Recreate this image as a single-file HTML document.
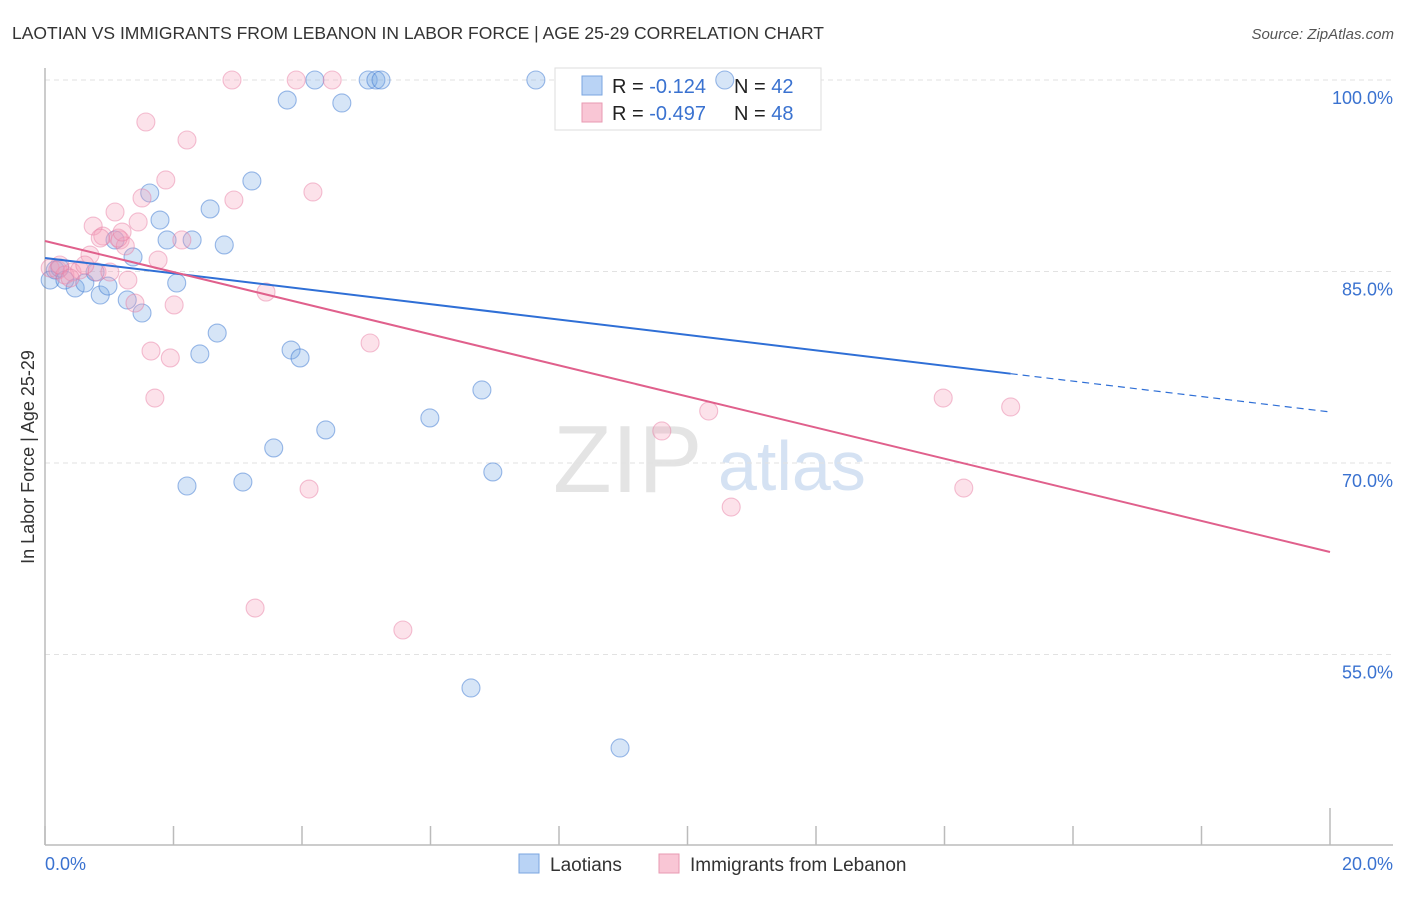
<!DOCTYPE html>
<html><head><meta charset="utf-8"><style>
body{margin:0;background:#fff;font-family:"Liberation Sans",sans-serif}
svg text{font-family:"Liberation Sans",sans-serif}
</style></head><body>
<svg id="c" width="1406" height="892" viewBox="0 0 1406 892" xmlns="http://www.w3.org/2000/svg">
<text x="12" y="39" font-size="17.5" fill="#333">LAOTIAN VS IMMIGRANTS FROM LEBANON IN LABOR FORCE | AGE 25-29 CORRELATION CHART</text>
<text x="1394" y="39" font-size="15" fill="#555" font-style="italic" text-anchor="end">Source: ZipAtlas.com</text>
<g>
<text x="553" y="492" font-size="96" fill="#e4e4e4" font-family="Liberation Serif,serif">ZIP</text>
<text x="718" y="490" font-size="70" fill="#d5e2f3">atlas</text>
</g>
<g id="grid"></g>
<g id="axes"></g>
<g>
<rect x="555" y="68" width="266" height="62" fill="#fff" stroke="#ddd"/>
<rect x="582" y="76" width="20" height="19" fill="#b9d3f5" stroke="#7aa6e0"/>
<rect x="582" y="103" width="20" height="19" fill="#f9c6d5" stroke="#e89ab2"/>
<text x="612" y="93" font-size="20" fill="#222">R = <tspan fill="#3a72d0"> -0.124</tspan></text>
<text x="734" y="93" font-size="20" fill="#222">N = <tspan fill="#3a72d0">42</tspan></text>
<text x="612" y="120" font-size="20" fill="#222">R = <tspan fill="#3a72d0">-0.497</tspan></text>
<text x="734" y="120" font-size="20" fill="#222">N = <tspan fill="#3a72d0">48</tspan></text>
</g>
<g id="pts"></g>
<g id="lines"></g>
<text transform="translate(34,457) rotate(-90)" font-size="18" fill="#333" text-anchor="middle">In Labor Force | Age 25-29</text>
<g>
<rect x="519" y="854" width="20" height="19" fill="#b9d3f5" stroke="#7aa6e0"/>
<text x="550" y="871" font-size="19" fill="#333">Laotians</text>
<rect x="659" y="854" width="20" height="19" fill="#f9c6d5" stroke="#e89ab2"/>
<text x="690" y="871" font-size="19" fill="#333">Immigrants from Lebanon</text>
</g>
</svg>
<script>
const blueX=[0.08,0.16,0.23,0.31,0.47,0.62,0.78,0.86,0.98,1.09,1.28,1.37,1.51,1.63,1.79,1.90,2.05,2.29,2.41,2.57,2.68,2.79,3.08,3.22,3.56,3.77,3.83,3.97,2.21,4.20,4.37,4.62,5.03,5.15,5.23,5.99,6.63,6.80,6.97,7.64,8.95,10.58];
const blueY=[84.33,85.12,85.27,84.33,83.71,84.10,84.96,83.16,83.86,87.47,82.77,86.14,81.75,91.15,89.03,87.47,84.10,87.47,78.54,89.90,80.18,87.08,68.51,92.09,71.18,98.43,78.85,78.23,68.20,100,72.59,98.20,100,100,100,73.53,52.38,75.72,69.30,100,47.68,100];
const pinkX=[0.08,0.20,0.31,0.42,0.54,0.70,0.75,0.81,0.90,1.01,1.09,1.17,1.25,1.29,1.40,1.45,1.51,1.57,1.65,1.71,1.76,1.88,1.95,2.01,2.13,2.21,2.91,2.94,3.27,3.44,3.91,4.11,4.17,4.47,5.06,5.57,9.60,10.33,10.68,13.98,14.30,15.03,0.23,0.39,0.62,0.86,1.14,1.20];
const pinkY=[85.27,85.12,84.73,84.96,85.12,86.29,88.56,84.96,87.78,84.96,89.66,87.47,87.00,84.33,82.53,88.88,90.76,96.71,78.77,75.09,85.90,92.17,78.23,82.38,87.47,95.30,100,90.60,58.64,83.39,100,67.96,91.23,100,79.40,56.92,72.51,74.07,66.55,75.09,68.04,74.39,85.51,84.49,85.51,87.62,87.62,88.09];
const blueTrend=[86.06,74.0];
const pinkTrend=[87.39,63.03];
const yTicks=[100,85,70,55];
const xTickLabels=["0.0%","20.0%"];
const NS="http://www.w3.org/2000/svg";
const sx=v=>45+v*64.25, sy=v=>80+(100-v)*12.767;
function mk(tag,attrs,parent){const e=document.createElementNS(NS,tag);for(const k in attrs)e.setAttribute(k,attrs[k]);document.getElementById(parent).appendChild(e);return e;}
yTicks.forEach(t=>{
 const g=mk('line',{x1:45,x2:1393,y1:sy(t),y2:sy(t),stroke:'#e2e2e2','stroke-dasharray':'5,4'},'grid');
 
 
 const l=mk('text',{x:1393,y:sy(t)+24,'font-size':18,fill:'#3a72d0','text-anchor':'end'},'grid');
 l.textContent=t.toFixed(1)+'%';
 
 
});
let a=mk('line',{x1:45,x2:45,y1:68,y2:845,stroke:'#bbb','stroke-width':1.5},'axes');


a=mk('line',{x1:45,x2:1393,y1:845,y2:845,stroke:'#bbb','stroke-width':1.5},'axes');


for(let i=0;i<=10;i++){
 const t=mk('line',{x1:sx(i*2),x2:sx(i*2),y1:(i==10?808:826),y2:845,stroke:'#bbb','stroke-width':1.5},'axes');
 
 
}
[[0,'start',45],[20,'end',1393]].forEach((d,i)=>{
 const t=mk('text',{x:d[2],y:870,'font-size':18,fill:'#3a72d0','text-anchor':d[1]},'axes');
 t.textContent=xTickLabels[i];
 
 
});
blueX.forEach((x,i)=>{
 const c=mk('circle',{cx:sx(x),cy:sy(blueY[i]),r:9,fill:'rgba(120,170,230,0.3)',stroke:'rgba(60,120,210,0.5)','stroke-width':1.1},'pts');
 
 
});
pinkX.forEach((x,i)=>{
 const c=mk('circle',{cx:sx(x),cy:sy(pinkY[i]),r:9,fill:'rgba(245,160,185,0.3)',stroke:'rgba(230,120,160,0.45)','stroke-width':1.1},'pts');
 
 
});
const by=x=>blueTrend[0]+(blueTrend[1]-blueTrend[0])*x/20;
let l=mk('line',{x1:sx(0),y1:sy(by(0)),x2:sx(15.03),y2:sy(by(15.03)),stroke:'#2f6fd6','stroke-width':2},'lines');


l=mk('line',{x1:sx(15.03),y1:sy(by(15.03)),x2:sx(20),y2:sy(by(20)),stroke:'#2f6fd6','stroke-width':1.2,'stroke-dasharray':'7,5'},'lines');


l=mk('line',{x1:sx(0),y1:sy(pinkTrend[0]),x2:sx(20),y2:sy(pinkTrend[1]),stroke:'#e0608c','stroke-width':2},'lines');


</script>
</body></html>
